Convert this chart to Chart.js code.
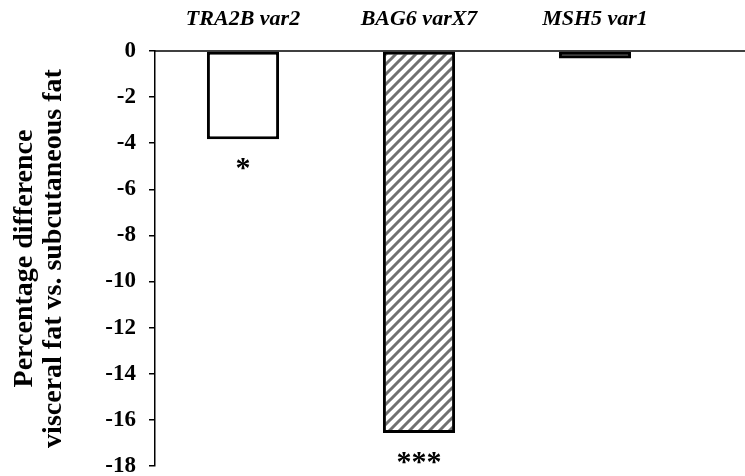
<!DOCTYPE html>
<html>
<head>
<meta charset="utf-8">
<script src="https://cdn.jsdelivr.net/npm/chart.js@4"></script>
<style>
  body { margin: 0; background: #fff; }
  #wrap { width: 745px; height: 476px; }
</style>
</head>
<body>
<div id="wrap"><canvas id="myChart"></canvas></div>
<script>
const genes = ['TRA2B var2', 'BAG6 varX7', 'MSH5 var1'];
const diffValues = [-3.83, -16.57, -0.33];
const stars = ['*', '***', ''];
const yTicks = [0, -2, -4, -6, -8, -10, -12, -14, -16, -18];

const serif = "'Liberation Serif', 'Times New Roman', serif";

// diagonal hatch for the middle bar
function hatch() {
    const c = document.createElement('canvas');
    c.width = 10; c.height = 10;
    const g = c.getContext('2d');
    g.fillStyle = '#fff';
    g.fillRect(0, 0, 10, 10);
    g.strokeStyle = '#707070';
    g.lineWidth = 3;
    g.beginPath();
    g.moveTo(-2, 12); g.lineTo(12, -2);
    g.moveTo(-7, 7); g.lineTo(7, -7);
    g.moveTo(3, 17); g.lineTo(17, 3);
    g.stroke();
    return g.createPattern(c, 'repeat');
}

const ctx = document.getElementById('myChart').getContext('2d');

const extras = {
    id: 'extras',
    afterDatasetsDraw(chart) {
        const c = chart.ctx;
        const area = chart.chartArea;
        const y0 = chart.scales.y.getPixelForValue(0);
        // zero line runs out to the right edge
        c.save();
        c.strokeStyle = '#000';
        c.lineWidth = 1.5;
        c.beginPath();
        c.moveTo(area.left, y0);
        c.lineTo(chart.width, y0);
        c.stroke();
        // significance stars under the bars
        c.fillStyle = '#000';
        c.font = 'bold 30px ' + serif;
        c.textAlign = 'center';
        c.textBaseline = 'top';
        chart.getDatasetMeta(0).data.forEach((bar, i) => {
            if (stars[i]) c.fillText(stars[i], bar.x, bar.y + 15);
        });
        c.restore();
    }
};

new Chart(ctx, {
    type: 'bar',
    data: {
        labels: genes,
        datasets: [{
            data: diffValues,
            backgroundColor: ['#fff', hatch(), '#000'],
            borderColor: '#000',
            borderWidth: 3,
            borderSkipped: false,
            categoryPercentage: 1,
            barPercentage: 0.41
        }]
    },
    options: {
        responsive: true,
        maintainAspectRatio: false,
        animation: false,
        layout: { padding: { left: 0, right: 62, top: 0, bottom: 10 } },
        plugins: {
            legend: { display: false },
            tooltip: { enabled: false }
        },
        scales: {
            x: {
                position: 'top',
                grid: { display: false },
                border: { display: false },
                ticks: {
                    color: '#000',
                    padding: 10,
                    font: { family: serif, size: 22, weight: 'bold', style: 'italic' }
                },
                afterFit(scale) { scale.height = 51; }
            },
            y: {
                min: -18,
                max: 0,
                grid: {
                    drawOnChartArea: false,
                    color: '#000',
                    tickLength: 6,
                    lineWidth: 1.5
                },
                border: { color: '#000', width: 1.5 },
                ticks: {
                    stepSize: 2,
                    color: '#000',
                    padding: 13,
                    font: { family: serif, size: 23, weight: 'bold', lineHeight: 1 },
                    callback: (v) => yTicks.includes(v) ? v : ''
                },
                title: {
                    display: true,
                    text: ['Percentage difference', 'visceral fat vs. subcutaneous fat'],
                    color: '#000',
                    font: { family: serif, size: 28, weight: 'bold', lineHeight: 1.05 },
                    padding: { top: 10, bottom: 0 }
                },
                afterFit(scale) {
                    scale.width = 155;
                    scale.paddingTop = 0;
                    scale.paddingBottom = 0;
                }
            }
        }
    },
    plugins: [extras]
});
</script>
</body>
</html>
